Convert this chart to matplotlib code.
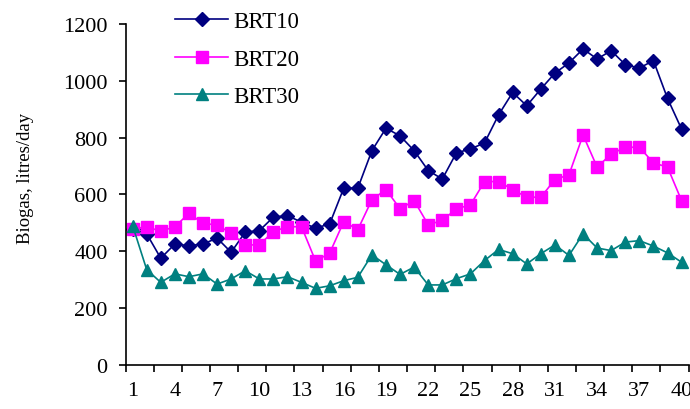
import matplotlib

matplotlib.use("Agg")

import matplotlib.pyplot as plt
import numpy as np

days = np.arange(1, 41)

brt10 = [478, 461, 375, 425, 419, 425, 446, 396, 467, 472,
         520, 525, 502, 481, 496, 622, 622, 754, 833, 806,
         754, 684, 654, 746, 760, 781, 880, 959, 912, 971,
         1027, 1063, 1112, 1077, 1106, 1057, 1045, 1071, 938, 830]

brt20 = [478, 486, 470, 486, 533, 498, 492, 463, 422, 422,
         469, 486, 486, 365, 393, 504, 476, 581, 617, 549,
         578, 493, 508, 549, 563, 645, 645, 617, 590, 590,
         652, 669, 809, 696, 742, 766, 766, 711, 696, 578]

brt30 = [490, 335, 290, 320, 310, 320, 284, 302, 331, 302,
         302, 310, 290, 269, 278, 296, 308, 387, 352, 318,
         344, 281, 281, 303, 320, 367, 406, 391, 355, 391,
         422, 385, 461, 411, 402, 432, 437, 418, 394, 361]

tick_days = list(range(1, 41, 3))

plt.rcParams["font.family"] = ["Liberation Serif", "DejaVu Serif"]

fig = plt.figure(figsize=(6.9, 4.1), dpi=100)
ax = fig.add_axes([0.182, 0.108, 0.816, 0.831])

ax.plot(days, brt10, color="#000080", marker="D", markersize=7.5, linewidth=1.2, label="BRT10")
ax.plot(days, brt20, color="#FF00FF", marker="s", markersize=8, linewidth=1.2, label="BRT20")
ax.plot(days, brt30, color="#008080", marker="^", markersize=8.5, linewidth=1.2, label="BRT30")

ax.set_xlim(0.5, 40.5)
ax.set_ylim(0, 1200)
ax.set_yticks(range(0, 1201, 200))
ax.set_xticks(tick_days)
# tick marks sit between categories, every second one
ax.set_xticks(np.arange(0.5, 40.6, 2), minor=True)
ax.tick_params(axis="x", which="major", length=0, pad=12, labelsize=16)
ax.tick_params(axis="x", which="minor", length=5, width=1.2, direction="out")
ax.tick_params(axis="y", length=5, width=1.2, direction="out", labelsize=16, pad=8)

for side in ["top", "right"]:
    ax.spines[side].set_visible(False)
for side in ["left", "bottom"]:
    ax.spines[side].set_linewidth(1.2)

ax.set_ylabel("Biogas, litres/day", fontsize=13.5)
ax.yaxis.set_label_coords(-0.163, 0.55)

ax.legend(loc="upper left", bbox_to_anchor=(0.254, 0.97), bbox_transform=fig.transFigure,
          frameon=False, fontsize=16.5, handlelength=2.3, handletextpad=0.25,
          labelspacing=0.72, borderpad=0, borderaxespad=0)

plt.savefig("out.png", dpi=100)
plt.close()
